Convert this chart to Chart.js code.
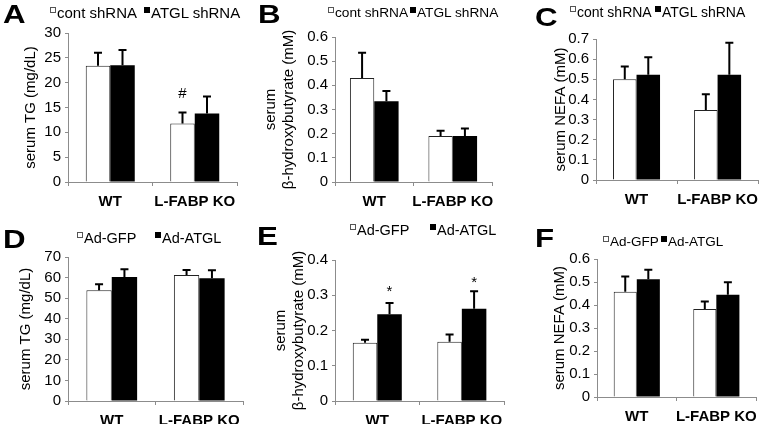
<!DOCTYPE html>
<html>
<head>
<meta charset="utf-8">
<script src="https://cdn.jsdelivr.net/npm/chart.js@4.4.1/dist/chart.umd.min.js"></script>
<style>
  html, body { margin: 0; padding: 0; background: #fff; }
  #wrap { position: relative; width: 766px; height: 424px; overflow: hidden; font-family: "Liberation Sans", Arial, sans-serif; color: #000; }
  canvas { position: absolute; }
  .letter { position: absolute; font-weight: bold; font-size: 25px; line-height: 25px; transform: scaleX(1.25); transform-origin: left top; }
  .leg { position: absolute; line-height: 18px; white-space: nowrap; display: flex; align-items: flex-start; }
  .sq { display: inline-block; width: 6px; height: 6px; margin-top: 3px; margin-right: 1px; box-sizing: border-box; }
  .sq.w { border: 1px solid #555; background: #fff; }
  .sq.b { background: #000; }
</style>
</head>
<body>
<div id="wrap"></div>
<script>
// categories and series labels
const groups = ['WT', 'L-FABP KO'];
const shLabels = ['cont shRNA', 'ATGL shRNA'];
const adLabels = ['Ad-GFP', 'Ad-ATGL'];

// A: serum TG, shRNA
const tgShCont = [23.4, 11.8];
const tgShContErr = [2.6, 2.2];
const tgShAtgl = [23.5, 13.8];
const tgShAtglErr = [3.1, 3.4];

// B: serum b-hydroxybutyrate, shRNA
const bhbShCont = [0.43, 0.19];
const bhbShContErr = [0.105, 0.022];
const bhbShAtgl = [0.334, 0.19];
const bhbShAtglErr = [0.043, 0.031];

// C: serum NEFA, shRNA
const nefaShCont = [0.50, 0.348];
const nefaShContErr = [0.064, 0.078];
const nefaShAtgl = [0.522, 0.522];
const nefaShAtglErr = [0.088, 0.16];

// D: serum TG, adenovirus
const tgAdGfp = [53.8, 61.3];
const tgAdGfpErr = [2.9, 2.4];
const tgAdAtgl = [60.3, 59.7];
const tgAdAtglErr = [3.8, 3.9];

// E: serum b-hydroxybutyrate, adenovirus
const bhbAdGfp = [0.165, 0.168];
const bhbAdGfpErr = [0.009, 0.021];
const bhbAdAtgl = [0.246, 0.262];
const bhbAdAtglErr = [0.032, 0.049];

// F: serum NEFA, adenovirus
const nefaAdGfp = [0.458, 0.383];
const nefaAdGfpErr = [0.066, 0.032];
const nefaAdAtgl = [0.512, 0.445];
const nefaAdAtglErr = [0.041, 0.054];

// significance marks: [dataset, group, value, text]
const marksA = [[0, 1, 17.7, '#']];
const marksE = [[1, 0, 0.319, '*'], [1, 1, 0.343, '*']];

const FONT = '"Liberation Sans", Arial, sans-serif';
const AXIS = '#8c8c8c';
const wrap = document.getElementById('wrap');

const errorBars = {
  id: 'errorBars',
  afterDatasetsDraw(chart) {
    const ctx = chart.ctx, y = chart.scales.y;
    ctx.save();
    ctx.strokeStyle = '#000';
    ctx.lineWidth = 2;
    chart.data.datasets.forEach((ds, di) => {
      chart.getDatasetMeta(di).data.forEach((bar, i) => {
        const top = y.getPixelForValue(ds.data[i] + ds.err[i]);
        ctx.beginPath();
        ctx.moveTo(bar.x, bar.y);
        ctx.lineTo(bar.x, top);
        ctx.moveTo(bar.x - 4, top);
        ctx.lineTo(bar.x + 4, top);
        ctx.stroke();
      });
    });
    const marks = chart.options.plugins.errorBars.marks || [];
    ctx.fillStyle = '#000';
    ctx.textAlign = 'center';
    ctx.textBaseline = 'middle';
    marks.forEach(([di, gi, v, t]) => {
      const bar = chart.getDatasetMeta(di).data[gi];
      ctx.font = '15px ' + FONT;
      ctx.fillText(t, bar.x, y.getPixelForValue(v) + (t === '*' ? 3 : 0));
    });
    ctx.restore();
  }
};

function panel(p) {
  const c = document.createElement('canvas');
  c.width = p.w; c.height = p.h;
  c.style.left = p.x + 'px'; c.style.top = p.y + 'px';
  wrap.appendChild(c);
  const ca = p.area; // [left, top, right, bottom] within canvas
  new Chart(c, {
    type: 'bar',
    data: {
      labels: groups,
      datasets: [
        { label: p.names[0], data: p.s1, err: p.e1, backgroundColor: '#fff', borderColor: '#222', borderWidth: 1 },
        { label: p.names[1], data: p.s2, err: p.e2, backgroundColor: '#000', borderColor: '#000', borderWidth: 0 }
      ]
    },
    options: {
      responsive: false,
      animation: false,
      devicePixelRatio: 1,
      categoryPercentage: p.cat || 0.58,
      barPercentage: 1,
      layout: { padding: { left: 0, top: ca[1], right: p.w - ca[2], bottom: 0 } },
      plugins: { legend: { display: false }, tooltip: { enabled: false }, errorBars: { marks: p.marks } },
      scales: {
        x: {
          afterFit: s => { s.height = p.h - ca[3]; },
          grid: { display: true, drawOnChartArea: false, drawTicks: true, tickLength: 4, color: AXIS, offset: true },
          border: { color: AXIS, width: 1 },
          ticks: { color: '#000', font: { family: FONT, size: 15, weight: 'bold' }, padding: 7, maxRotation: 0, autoSkip: false }
        },
        y: {
          min: 0, max: p.max,
          afterFit: s => { s.width = ca[0]; },
          grid: { display: true, drawOnChartArea: false, drawTicks: true, tickLength: 3, color: AXIS },
          border: { color: AXIS, width: 1 },
          ticks: {
            stepSize: p.step, color: '#000', padding: 4, autoSkip: false,
            font: { family: FONT, size: 15 },
            callback: v => v === 0 ? '0' : v.toFixed(p.dec)
          },
          title: { display: true, text: p.title, color: '#000', font: { family: FONT, size: 15, lineHeight: 1.25 }, padding: { top: p.tpad, bottom: 0 } }
        }
      }
    },
    plugins: [errorBars]
  });
}

function letter(t, x, y) {
  const d = document.createElement('div');
  d.className = 'letter';
  d.textContent = t;
  d.style.left = x + 'px'; d.style.top = (y - 3) + 'px';
  wrap.appendChild(d);
}

function legend(names, xs, cy, size) {
  names.forEach((n, i) => {
    const d = document.createElement('div');
    d.className = 'leg';
    d.style.fontSize = size + 'px';
    d.style.left = xs[i] + 'px'; d.style.top = (cy - 9) + 'px';
    const s = document.createElement('span');
    s.className = 'sq ' + (i === 0 ? 'w' : 'b');
    d.appendChild(s);
    d.appendChild(document.createTextNode(n));
    wrap.appendChild(d);
  });
}

const bhbTitle = ['serum', '\u03b2-hydroxybutyrate (mM)'];

panel({ x: 0, y: 0, w: 255, h: 212, area: [68, 33, 237, 182], max: 30, step: 5, dec: 0,
  title: 'serum TG (mg/dL)', tpad: 21, names: shLabels, s1: tgShCont, e1: tgShContErr, s2: tgShAtgl, e2: tgShAtglErr, marks: marksA });
panel({ x: 255, y: 0, w: 255, h: 212, area: [80, 37, 237, 182], max: 0.6, step: 0.1, dec: 1, cat: 0.62,
  title: bhbTitle, tpad: 6, names: shLabels, s1: bhbShCont, e1: bhbShContErr, s2: bhbShAtgl, e2: bhbShAtglErr });
panel({ x: 510, y: 0, w: 256, h: 212, area: [86, 39, 252, 180], max: 0.7, step: 0.1, dec: 1,
  title: 'serum NEFA (mM)', tpad: 41, names: shLabels, s1: nefaShCont, e1: nefaShContErr, s2: nefaShAtgl, e2: nefaShAtglErr });
panel({ x: 0, y: 212, w: 255, h: 212, area: [68, 45, 243, 189], max: 70, step: 10, dec: 0,
  title: 'serum TG (mg/dL)', tpad: 16, names: adLabels, s1: tgAdGfp, e1: tgAdGfpErr, s2: tgAdAtgl, e2: tgAdAtglErr });
panel({ x: 255, y: 212, w: 255, h: 212, area: [80, 48, 252, 189], max: 0.4, step: 0.1, dec: 1,
  title: bhbTitle, tpad: 16, names: adLabels, s1: bhbAdGfp, e1: bhbAdGfpErr, s2: bhbAdAtgl, e2: bhbAdAtglErr, marks: marksE });
panel({ x: 510, y: 212, w: 256, h: 212, area: [87, 47, 247, 185], max: 0.6, step: 0.1, dec: 1,
  title: 'serum NEFA (mM)', tpad: 40, names: adLabels, s1: nefaAdGfp, e1: nefaAdGfpErr, s2: nefaAdAtgl, e2: nefaAdAtglErr });

letter('A', 3, 5); letter('B', 258, 5); letter('C', 535, 8);
letter('D', 3, 230); letter('E', 257, 227); letter('F', 535, 229);

legend(shLabels, [50, 144], 13, 15);
legend(shLabels, [328, 410], 13, 13.7);
legend(shLabels, [570, 655], 12, 14);
legend(adLabels, [77, 155], 238, 14.5);
legend(adLabels, [350, 430], 230, 14.5);
legend(adLabels, [603, 661], 242, 13.5);
</script>
</body>
</html>
